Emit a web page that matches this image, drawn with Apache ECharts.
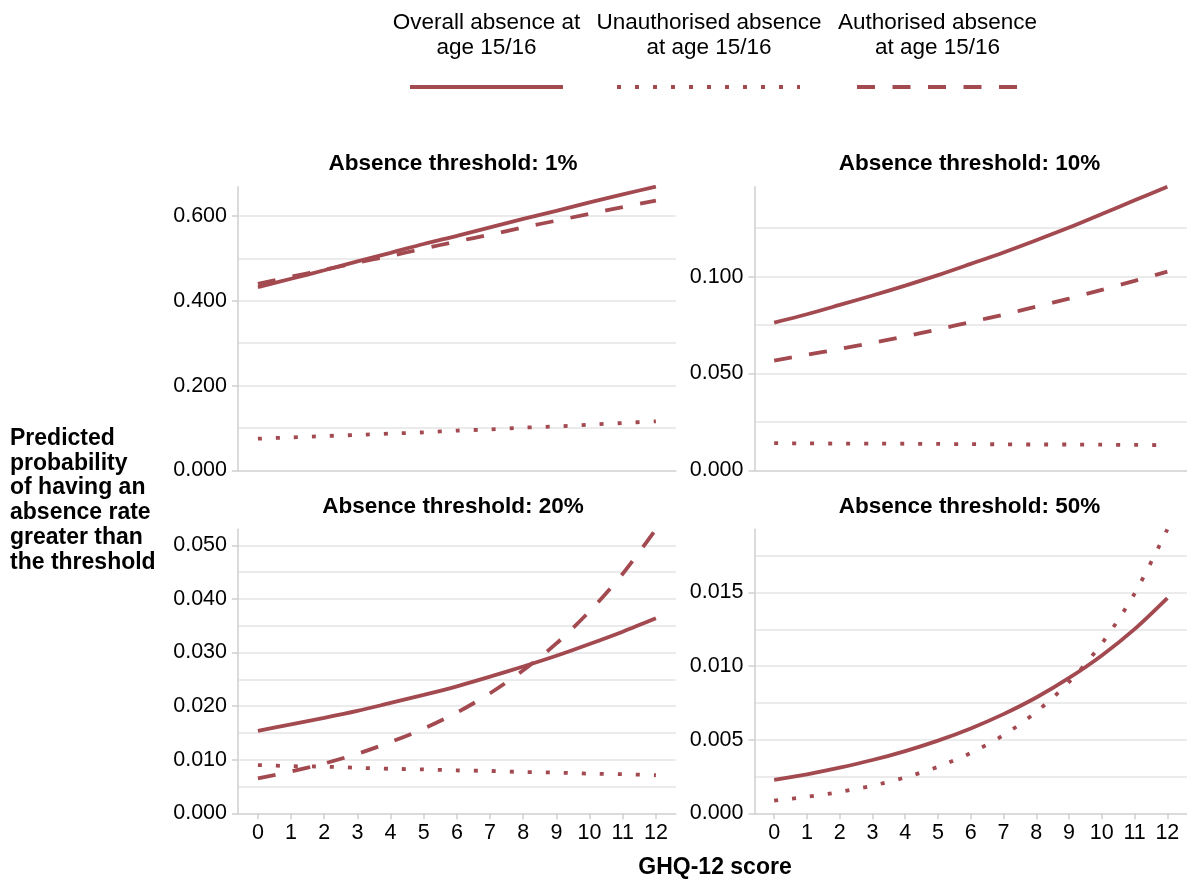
<!DOCTYPE html>
<html>
<head>
<meta charset="utf-8">
<script src="https://cdn.jsdelivr.net/npm/echarts@6/dist/echarts.min.js"></script>
<style>
  html, body { margin: 0; padding: 0; background: #ffffff; }
  #chart { width: 1187px; height: 880px; }
</style>
</head>
<body>
<div id="chart"></div>
<script>
// GHQ-12 score (x axis)
const ghqScores = [0, 1, 2, 3, 4, 5, 6, 7, 8, 9, 10, 11, 12];

// Predicted probabilities, absence threshold 1%
const overall1 = [0.432, 0.452, 0.472, 0.493, 0.513, 0.534, 0.553, 0.573, 0.593, 0.612, 0.632, 0.651, 0.669];
const unauth1  = [0.075, 0.078, 0.081, 0.084, 0.087, 0.090, 0.094, 0.097, 0.101, 0.104, 0.108, 0.112, 0.116];
const auth1    = [0.440, 0.457, 0.473, 0.490, 0.506, 0.523, 0.540, 0.556, 0.573, 0.589, 0.605, 0.621, 0.636];

// Absence threshold 10%
const overall10 = [0.0763, 0.0806, 0.0854, 0.0903, 0.0954, 0.1008, 0.1066, 0.1125, 0.1188, 0.1253, 0.1323, 0.1394, 0.1464];
const unauth10  = [0.0141, 0.0140, 0.0139, 0.0139, 0.0138, 0.0137, 0.0136, 0.0135, 0.0134, 0.0134, 0.0133, 0.0132, 0.0131];
const auth10    = [0.0567, 0.0597, 0.0627, 0.0659, 0.0692, 0.0728, 0.0766, 0.0804, 0.0845, 0.0887, 0.0932, 0.0978, 0.1026];

// Absence threshold 20%
const overall20 = [0.0154, 0.0166, 0.0178, 0.0191, 0.0206, 0.0221, 0.0237, 0.0255, 0.0274, 0.0294, 0.0316, 0.0339, 0.0364];
const unauth20  = [0.0090, 0.0088, 0.0087, 0.0085, 0.0083, 0.0082, 0.0080, 0.0079, 0.0077, 0.0076, 0.0074, 0.0073, 0.0071];
const auth20    = [0.0065, 0.0078, 0.0093, 0.0111, 0.0133, 0.0158, 0.0188, 0.0224, 0.0267, 0.0317, 0.0377, 0.0447, 0.0530];

// Absence threshold 50%
const overall50 = [0.00227, 0.00265, 0.00310, 0.00362, 0.00423, 0.00494, 0.00577, 0.00674, 0.00787, 0.00920, 0.01073, 0.01252, 0.01463];
const unauth50  = [0.00086, 0.00112, 0.00145, 0.00188, 0.00244, 0.00316, 0.00410, 0.00531, 0.00689, 0.00892, 0.01154, 0.01493, 0.01930];

// Panel titles and y tick labels
const panelTitles = ['Absence threshold: 1%', 'Absence threshold: 10%', 'Absence threshold: 20%', 'Absence threshold: 50%'];
const yTicks = [
  [0, 0.2, 0.4, 0.6],
  [0, 0.05, 0.1],
  [0, 0.01, 0.02, 0.03, 0.04, 0.05],
  [0, 0.005, 0.01, 0.015]
];
const yGridStep = [0.1, 0.025, 0.005, 0.0025];
const seriesNames = ['Overall absence at\nage 15/16', 'Unauthorised absence\nat age 15/16', 'Authorised absence\nat age 15/16'];

const COLOR = '#a34a51';
const FONT = '"Liberation Sans", Arial, Helvetica, sans-serif';
const AXIS_GRAY = '#cfcfcf';
const GRID_GRAY = '#ebebeb';
const SOLID = 'solid';
const DOTTED = [4, 14];
const DASHED = [18, 17.5];

const panels = [
  { left: 238,   top: 186.7, height: 283.8, bottomAxis: false, lines: [[overall1, SOLID], [unauth1, DOTTED], [auth1, DASHED]] },
  { left: 754.5, top: 186.7, height: 283.8, bottomAxis: false, lines: [[overall10, SOLID], [unauth10, DOTTED], [auth10, DASHED]] },
  { left: 238,   top: 529.3, height: 284,   bottomAxis: true,  lines: [[overall20, SOLID], [unauth20, DOTTED], [auth20, DASHED]] },
  { left: 754.5, top: 529.3, height: 284,   bottomAxis: true,  lines: [[overall50, SOLID], [unauth50, DOTTED]] }
];
const PANEL_W = 437.8;

const grids = [], xAxes = [], yAxes = [], series = [], graphics = [];

panels.forEach((p, i) => {
  grids.push({ left: p.left, top: p.top, width: PANEL_W, height: p.height, containLabel: false });

  // each panel's y range ends at its highest curve
  const yMax = Math.max(...p.lines.map(([values]) => Math.max(...values)));

  xAxes.push({
    type: 'value', gridIndex: i, min: -0.6, max: 12.6,
    axisLine: { show: true, onZero: false, lineStyle: { color: AXIS_GRAY, width: 1.5 } },
    axisTick: { show: p.bottomAxis, customValues: ghqScores, length: 6, lineStyle: { color: AXIS_GRAY, width: 1.5 } },
    axisLabel: { show: p.bottomAxis, customValues: ghqScores, margin: 9, color: '#000', fontSize: 21.5, fontFamily: FONT },
    splitLine: { show: false }
  });

  // y axis carrying labels, ticks and the series
  const labelAxisIndex = yAxes.length;
  yAxes.push({
    type: 'value', gridIndex: i, min: 0, max: yMax, position: 'left',
    axisLine: { show: true, onZero: false, lineStyle: { color: AXIS_GRAY, width: 1.5 } },
    axisTick: { show: true, customValues: yTicks[i], length: 6, lineStyle: { color: AXIS_GRAY, width: 1.5 } },
    axisLabel: {
      customValues: yTicks[i], margin: 11, color: '#000', fontSize: 21.5, fontFamily: FONT,
      formatter: v => v.toFixed(3)
    },
    splitLine: { show: false }
  });
  // companion y axis for the finer horizontal grid lines
  yAxes.push({
    type: 'value', gridIndex: i, min: 0, max: yMax, interval: yGridStep[i], position: 'left', offset: 0,
    axisLine: { show: false, onZero: false }, axisTick: { show: false }, axisLabel: { show: false },
    splitLine: { show: true, showMinLine: false, showMaxLine: false, lineStyle: { color: GRID_GRAY, width: 2 } }
  });

  p.lines.forEach(([values, dash], k) => {
    series.push({
      type: 'line', name: seriesNames[k], xAxisIndex: i, yAxisIndex: labelAxisIndex,
      data: ghqScores.map((g, j) => [g, values[j]]),
      showSymbol: false, smooth: 0.3, silent: true, z: 3,
      lineStyle: { color: COLOR, width: 3.8, type: dash, cap: 'butt' }
    });
  });

  graphics.push({
    type: 'text', x: p.left + 215, y: p.top - 23,
    style: { text: panelTitles[i], font: 'bold 22.5px ' + FONT, fill: '#000',
             align: 'center', verticalAlign: 'middle', textAlign: 'center', textVerticalAlign: 'middle' }
  });
});

// Legend: labels above their line samples
const legendItems = [
  { cx: 486.5, x1: 410, x2: 563, dash: null },
  { cx: 709,   x1: 617, x2: 800, dash: DOTTED },
  { cx: 937.5, x1: 857, x2: 1018, dash: DASHED }
];
legendItems.forEach((it, k) => {
  graphics.push({
    type: 'text', x: it.cx, y: 35,
    style: { text: seriesNames[k], font: '22.5px ' + FONT, fill: '#000', lineHeight: 25,
             align: 'center', verticalAlign: 'middle', textAlign: 'center', textVerticalAlign: 'middle' }
  });
  graphics.push({
    type: 'line', shape: { x1: it.x1, y1: 87, x2: it.x2, y2: 87 },
    style: { stroke: COLOR, lineWidth: 4, lineDash: it.dash, lineCap: 'butt' }
  });
});

// Shared axis titles
graphics.push({
  type: 'text', x: 10, y: 500.5,
  style: { text: 'Predicted\nprobability\nof having an\nabsence rate\ngreater than\nthe threshold',
           font: 'bold 23px ' + FONT, fill: '#000', lineHeight: 24.8,
           align: 'left', verticalAlign: 'middle', textAlign: 'left', textVerticalAlign: 'middle' }
});
graphics.push({
  type: 'text', x: 715, y: 868,
  style: { text: 'GHQ-12 score', font: 'bold 23px ' + FONT, fill: '#000',
           align: 'center', verticalAlign: 'middle', textAlign: 'center', textVerticalAlign: 'middle' }
});

const chart = echarts.init(document.getElementById('chart'), null, { renderer: 'canvas' });
chart.setOption({
  animation: false,
  backgroundColor: '#ffffff',
  grid: grids,
  xAxis: xAxes,
  yAxis: yAxes,
  series: series,
  graphic: graphics
});
</script>
</body>
</html>
